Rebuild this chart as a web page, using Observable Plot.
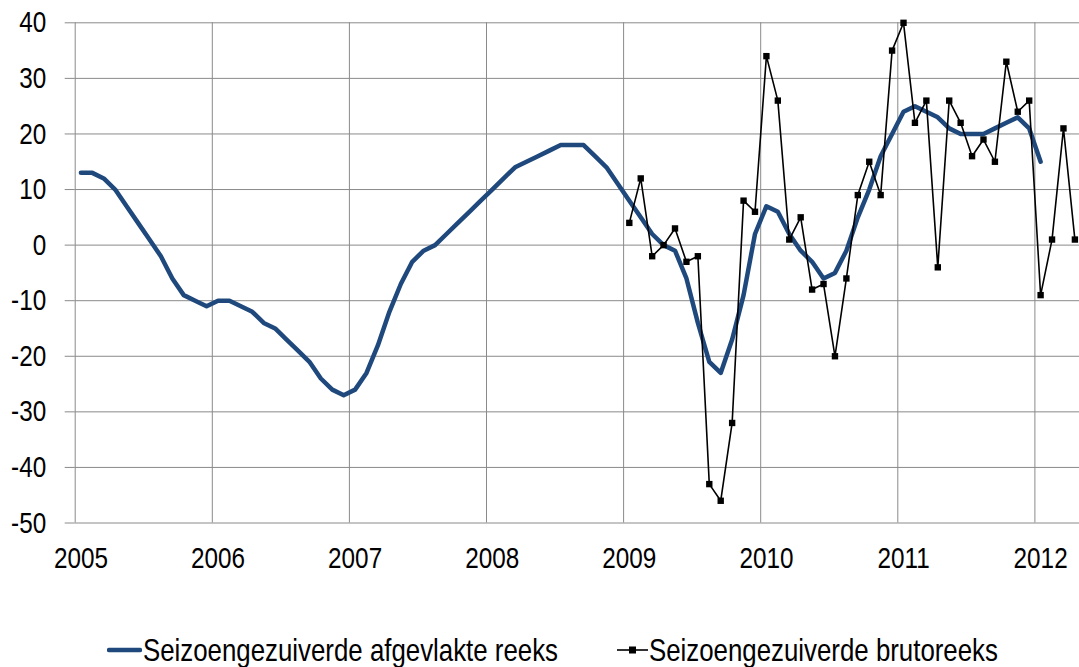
<!DOCTYPE html>
<html><head><meta charset="utf-8">
<script src="https://cdn.jsdelivr.net/npm/d3@7"></script>
<script src="https://cdn.jsdelivr.net/npm/@observablehq/plot@0.6"></script>
<style>
body{margin:0;background:#fff;}
#wrap{position:relative;width:1079px;height:667px;font-family:"Liberation Sans",Arial,sans-serif;}
.leg{position:absolute;top:632px;height:36px;font-size:31.5px;color:#000;display:flex;align-items:center;white-space:nowrap;}
.leg svg{display:block;flex:none;}
.leg span{display:inline-block;transform:scaleX(0.82);transform-origin:left center;}
</style></head><body><div id="wrap"></div>
<script>
// Seizoengezuiverde afgevlakte reeks, monthly from Jan 2005
const smoothStartYear = 2005;
const smoothValues = [
  13, 13, 12, 10, 7, 4, 1, -2, -6, -9, -10, -11,
  -10, -10, -11, -12, -14, -15, -17, -19, -21, -24, -26, -27,
  -26, -23, -18, -12, -7, -3, -1, 0, 2, 4, 6, 8,
  10, 12, 14, 15, 16, 17, 18, 18, 18, 16, 14, 11,
  8, 5, 2, 0, -1, -6, -14, -21, -23, -17, -9, 2,
  7, 6, 2, -1, -3, -6, -5, -1, 5, 10, 16, 20,
  24, 25, 24, 23, 21, 20, 20, 20, 21, 22, 23, 21,
  15
];
// Seizoengezuiverde brutoreeks, monthly from Jan 2009
const rawStartYear = 2009;
const rawValues = [
  4, 12, -2, 0, 3, -3, -2, -43, -46, -32, 8, 6,
  34, 26, 1, 5, -8, -7, -20, -6, 9, 15, 9, 35,
  40, 22, 26, -4, 26, 22, 16, 19, 15, 33, 24, 26,
  -9, 1, 21, 1
];
const yearLabels = [2005, 2006, 2007, 2008, 2009, 2010, 2011, 2012];
const yTicks = [-50, -40, -30, -20, -10, 0, 10, 20, 30, 40];
const seriesNames = ["Seizoengezuiverde afgevlakte reeks", "Seizoengezuiverde brutoreeks"];

const blue = "#1f497d";
const grid = "#8a8a8a";
const font = '"Liberation Sans",Arial,sans-serif';

const smooth = smoothValues.map((v, i) => ({t: smoothStartYear + (i + 0.5) / 12, v}));
const raw = rawValues.map((v, i) => ({t: rawStartYear + (i + 0.5) / 12, v}));

const W = 1079, H = 600;
const chart = Plot.plot({
  width: W, height: H,
  marginLeft: 74.7, marginRight: 0, marginTop: 22.3, marginBottom: 77.5,
  style: {fontFamily: font, background: "#fff", overflow: "visible"},
  x: {domain: [2005, 2012.3253], type: "linear", label: null},
  y: {domain: [-50, 40], label: null},
  marks: [
    Plot.ruleY(yTicks, {stroke: grid, strokeWidth: 1}),
    Plot.ruleX(yearLabels, {stroke: grid, strokeWidth: 1}),
    Plot.axisY({ticks: yTicks, label: null, tickSize: 10, tickPadding: 19, stroke: grid, strokeOpacity: 1, fontSize: 30, fill: "#000", tickFormat: d => String(d)}),
    Plot.axisX({ticks: yearLabels.map(y => y + 0.5 / 12), label: null, tickFormat: d => String(Math.floor(d)), tickSize: 0, tickPadding: 24, fontSize: 30, fill: "#000"}),
    Plot.line(smooth, {x: "t", y: "v", stroke: blue, strokeWidth: 4.5, strokeLinejoin: "round", strokeLinecap: "round"}),
    Plot.line(raw, {x: "t", y: "v", stroke: "#000", strokeWidth: 1.6}),
    Plot.dot(raw, {x: "t", y: "v", symbol: "square", r: 3.6, fill: "#000", stroke: "none"})
  ]
});
const wrap = document.getElementById("wrap");
wrap.appendChild(chart);

// narrow the glyphs (Arial Narrow look) while keeping real text
chart.querySelectorAll('g[aria-label$="tick label"] text').forEach(t => {
  const len = t.getComputedTextLength();
  t.setAttribute("textLength", (len * 0.81).toFixed(2));
  t.setAttribute("lengthAdjust", "spacingAndGlyphs");
});

function legItem(left, name, marker) {
  const d = document.createElement("div");
  d.className = "leg";
  d.style.left = left + "px";
  const sw = marker
    ? `<svg width="31" height="20"><line x1="0" y1="10" x2="31" y2="10" stroke="#000" stroke-width="1.6"/><rect x="12" y="6.5" width="7" height="7" fill="#000"/></svg>`
    : `<svg width="35" height="20"><line x1="2" y1="10" x2="33" y2="10" stroke="${blue}" stroke-width="4.5" stroke-linecap="round"/></svg>`;
  d.innerHTML = sw + `<span style="margin-left:1px">${name}</span>`;
  wrap.appendChild(d);
}
legItem(107, seriesNames[0], false);
legItem(617, seriesNames[1], true);
</script></body></html>
